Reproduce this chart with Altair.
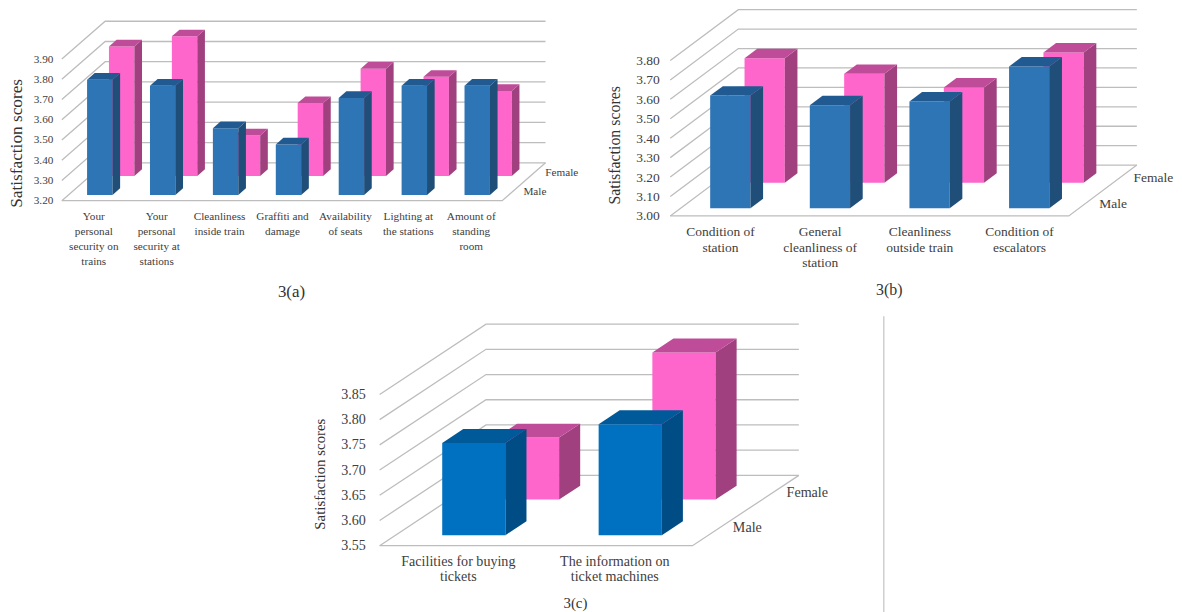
import json
import altair as alt
import pandas as pd

FONT = "Liberation Serif"
TEXT = "#404040"
GRID = "#bdbdbd"
K = 1.004  # page-pixel calibration of the rendered picture

cats_a = [["Your", "personal", "security on", "trains"],
          ["Your", "personal", "security at", "stations"],
          ["Cleanliness", "inside train"],
          ["Graffiti and", "damage"],
          ["Availability", "of seats"],
          ["Lighting at", "the stations"],
          ["Amount of", "standing", "room"]]
male_a = [3.77, 3.74, 3.53, 3.45, 3.68, 3.74, 3.74]
female_a = [3.84, 3.89, 3.40, 3.56, 3.73, 3.69, 3.62]
ticks_a = [3.2, 3.3, 3.4, 3.5, 3.6, 3.7, 3.8, 3.9]

cats_b = [["Condition of", "station"],
          ["General", "cleanliness of", "station"],
          ["Cleanliness", "outside train"],
          ["Condition of", "escalators"]]
male_b = [3.58, 3.53, 3.55, 3.73]
female_b = [3.64, 3.56, 3.49, 3.67]
ticks_b = [3.0, 3.1, 3.2, 3.3, 3.4, 3.5, 3.6, 3.7, 3.8]

cats_c = [["Facilities for buying", "tickets"],
          ["The information on", "ticket machines"]]
male_c = [3.733, 3.77]
female_c = [3.673, 3.842]
ticks_c = [3.55, 3.60, 3.65, 3.70, 3.75, 3.80, 3.85]

series_names = ["Male", "Female"]
COL_A = {"Male": ("#2E75B6", "#215A90", "#1F4E79"), "Female": ("#FF66CC", "#BF4C99", "#A0407F")}
COL_C = {"Male": ("#0070C0", "#005A9A", "#004C85"), "Female": ("#FF66CC", "#BF4C99", "#A0407F")}
DEPTH = {"Male": 0.15, "Female": 0.655}
BAR_W = 0.404


def panel(cats, male, female, ticks, caption, colors, box, origin, cw, sh,
          ddx, ddy, bar_depth, fs, title_fs, cap_fs, line_h, axis_y, label_right,
          title_pos, cap_pos, series_dx):
    """box = (left, top, right, bottom) group px; origin = page px of the front-left floor corner;
    cw = px per category; sh = px per score unit; ddx/ddy = full floor depth in data units."""
    left, top, right, bottom = box
    ox, oy = origin[0] * K, origin[1] * K
    cw, sh = cw * K, sh * K
    axis_y, label_right = axis_y * K, label_right * K
    title_pos = (title_pos[0] * K, title_pos[1] * K)
    cap_pos = (cap_pos[0] * K, cap_pos[1] * K)
    tmin, tmax = ticks[0], ticks[-1]
    n = len(cats)
    xs = alt.Scale(domain=[(left - ox) / cw, (right - ox) / cw], nice=False, zero=False)
    ys = alt.Scale(domain=[tmin - (bottom - oy) / sh, tmin + (oy - top) / sh], nice=False, zero=False)

    grid = []
    for t in ticks:
        grid += [dict(k=str(t), o=0, x=0, y=t),
                 dict(k=str(t), o=1, x=ddx, y=t + ddy),
                 dict(k=str(t), o=2, x=n + ddx, y=t + ddy)]
    grid += [dict(k="floor", o=0, x=0, y=tmin),
             dict(k="floor", o=1, x=n, y=tmin),
             dict(k="floor", o=2, x=n + ddx, y=tmin + ddy)]

    xaxis = alt.Axis(values=[i + 0.5 for i in range(n)], grid=False, domain=False, ticks=False,
                     labelExpr=json.dumps(cats) + "[floor(datum.value)]",
                     labelFont=FONT, labelFontSize=fs, labelColor=TEXT, labelPadding=0,
                     labelLineHeight=line_h, labelOverlap=False, labelBound=False, labelFlush=False,
                     labelAngle=0, offset=-(bottom - axis_y),
                     title=caption, titleFont=FONT, titleFontSize=cap_fs, titleFontWeight="normal",
                     titleColor="#333333", titleX=cap_pos[0] - left, titleY=cap_pos[1] - axis_y,
                     titleBaseline="middle", titleAlign="center")
    yaxis = alt.Axis(values=ticks, format=".2f", grid=False, domain=False, ticks=False,
                     labelFont=FONT, labelFontSize=fs, labelColor=TEXT, labelPadding=0,
                     labelOverlap=False, labelBound=False, labelFlush=False,
                     offset=-(label_right - left),
                     title="Satisfaction scores", titleFont=FONT, titleFontSize=title_fs,
                     titleFontWeight="normal", titleColor="#333333", titleAngle=-90,
                     titleX=title_pos[0] - label_right, titleY=title_pos[1] - top,
                     titleBaseline="middle", titleAlign="center")
    X = alt.X("x:Q", scale=xs, axis=xaxis)
    Y = alt.Y("y:Q", scale=ys, axis=yaxis)

    layers = [alt.Chart(pd.DataFrame(grid)).mark_line(color=GRID, strokeWidth=1.3).encode(
        x=X, y=Y, detail="k:N", order="o:Q")]

    gap = (1 - BAR_W) / 2
    for name, vals in (("Female", female), ("Male", male)):
        d = DEPTH[name]
        front, topc, side = colors[name]
        rows = []
        hx, hy = bar_depth * ddx, bar_depth * ddy
        for i, v in enumerate(vals):
            x0 = i + gap + d * ddx
            x1 = x0 + BAR_W
            b = tmin + d * ddy
            tv = v + d * ddy
            rows += [dict(id=f"f{i}", c=front, x=x0, y=b, y2=tv), dict(id=f"f{i}", c=front, x=x1, y=b, y2=tv),
                     dict(id=f"s{i}", c=side, x=x1, y=b, y2=tv), dict(id=f"s{i}", c=side, x=x1 + hx, y=b + hy, y2=tv + hy),
                     dict(id=f"t{i}", c=topc, x=x0, y=tv, y2=tv), dict(id=f"t{i}", c=topc, x=x0 + hx, y=tv, y2=tv + hy),
                     dict(id=f"t{i}", c=topc, x=x1, y=tv, y2=tv + hy), dict(id=f"t{i}", c=topc, x=x1 + hx, y=tv + hy, y2=tv + hy)]
        layers.append(alt.Chart(pd.DataFrame(rows)).mark_area(opacity=1).encode(
            x=X, y=Y, y2="y2:Q",
            color=alt.Color("c:N", scale=None),
            detail="id:N"))

    labs = []
    for name in series_names:
        mid = DEPTH[name] + bar_depth / 2
        labs.append(dict(s=name, x=n + mid * ddx, y=tmin + mid * ddy))
    layers.append(alt.Chart(pd.DataFrame(labs)).mark_text(
        align="left", baseline="middle", dx=series_dx, font=FONT, fontSize=fs, color=TEXT).encode(
        x=X, y=Y, text="s:N"))
    return layers, right - left, bottom - top


la, wa, ha = panel(cats_a, male_a, female_a, ticks_a, "3(a)", COL_A, (8, 8, 590, 306), (61, 200), 63.14, 203,
                   0.689, 0.187, 0.176, 11.3, 17.4, 17, 15.1, 210, 52, (16, 142), (291, 291), 11)
lb, wb, hb = panel(cats_b, male_b, female_b, ticks_b, "3(b)", COL_A, (590, 8, 1164, 306), (671.7, 215.3), 100, 195,
                   0.683, 0.2615, 0.186, 13.6, 16, 16, 15.5, 224.5, 660.7, (616, 144), (891, 289), 14)
lc, wc, hc = panel(cats_c, male_c, female_c, ticks_c, "3(c)", COL_C, (8, 306, 1164, 616), (380, 546.3), 157, 506,
                   0.68, 0.1395, 0.198, 14.2, 15, 15, 15, 555.5, 365.7, (319.3, 474), (576, 603), 14)

border = alt.Chart(pd.DataFrame({"a": [0]})).mark_rule(color="#cfcfcf", strokeWidth=1.5).encode(
    x=alt.value(886 * K - 8), y=alt.value(316 * K - 306), y2=alt.value(616 - 306))

ca = alt.layer(*la).properties(width=wa, height=ha)
cb = alt.layer(*lb).properties(width=wb, height=hb)
cc = alt.layer(*(lc + [border])).properties(width=wc, height=hc)

chart = alt.vconcat(alt.hconcat(ca, cb, spacing=0), cc, spacing=0).properties(
    padding={"top": -4, "left": 0, "right": 0, "bottom": 0}).configure_view(stroke=None)
chart.save("out.html", embed_options={"renderer": "svg", "actions": False})
